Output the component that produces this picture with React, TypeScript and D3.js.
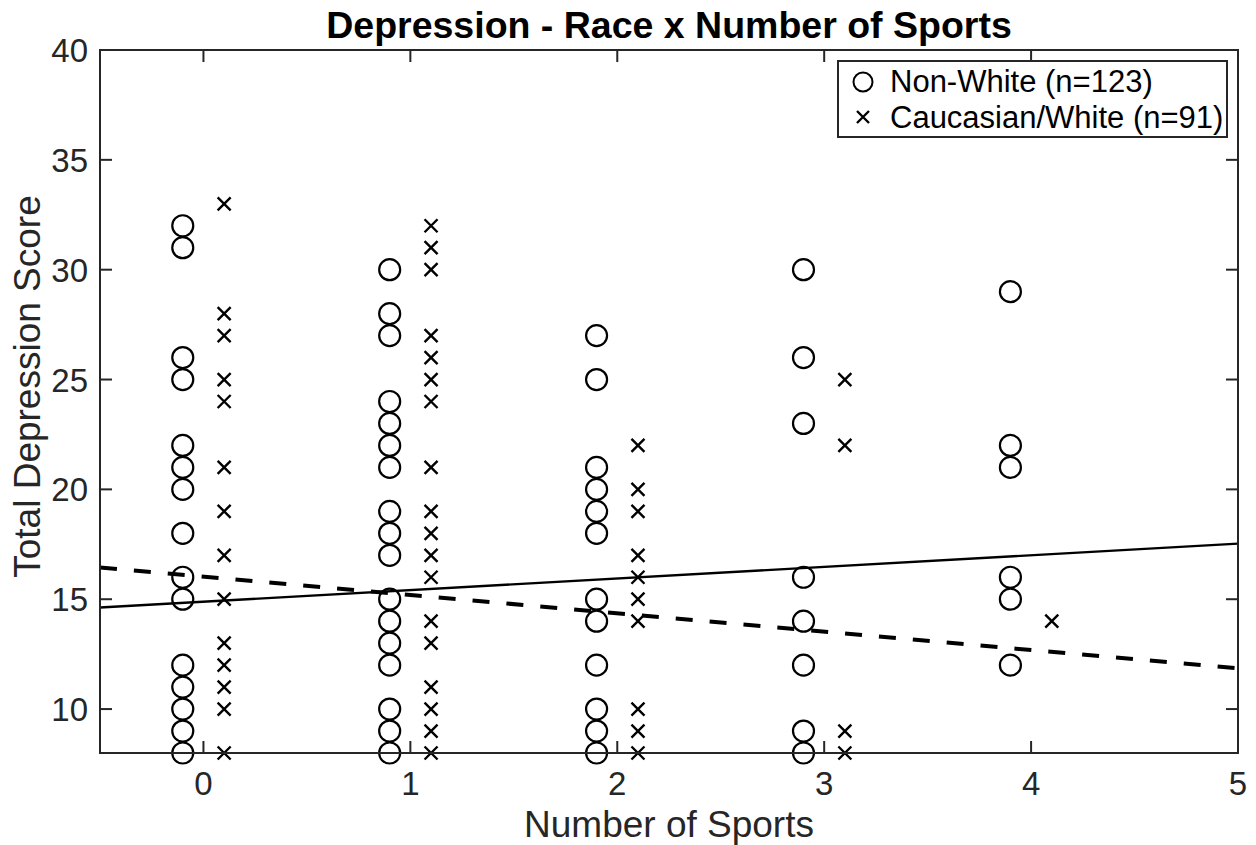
import React from "react";
import * as d3 from "d3";

// Total depression scores per participant, grouped by number of sports played.
const sportCounts = [0, 1, 2, 3, 4, 5];
const nonWhiteScores: number[][] = [
  [32, 31, 26, 25, 22, 21, 20, 18, 16, 15, 12, 11, 10, 9, 8],
  [30, 28, 27, 24, 23, 22, 21, 19, 18, 17, 15, 14, 13, 12, 10, 9, 8],
  [27, 25, 21, 20, 19, 18, 15, 14, 12, 10, 9, 8],
  [30, 26, 23, 16, 14, 12, 9, 8],
  [29, 22, 21, 16, 15, 12],
];
const whiteScores: number[][] = [
  [33, 28, 27, 25, 24, 21, 19, 17, 15, 13, 12, 11, 10, 8],
  [32, 31, 30, 27, 26, 25, 24, 21, 19, 18, 17, 16, 14, 13, 11, 10, 9, 8],
  [22, 20, 19, 17, 16, 15, 14, 10, 9, 8],
  [25, 22, 9, 8],
  [14],
];
const yTicks = [10, 15, 20, 25, 30, 35, 40];

// Linear fits: [intercept, slope]
const nonWhiteFit = [14.885, 0.529];
const whiteFit = [16.03, -0.836];

const legendLabels = ["Non-White (n=123)", "Caucasian/White (n=91)"];
const groupOffset = 0.1;

const W = 1256;
const H = 845;
const m = { left: 100, right: 1238, top: 50, bottom: 753 };

const x = d3.scaleLinear().domain([-0.5, 5]).range([m.left, m.right]);
const y = d3.scaleLinear().domain([8, 40]).range([m.bottom, m.top]);

const FONT = "'Liberation Sans', Arial, Helvetica, sans-serif";
const AX = "#262626";

function Cross({ cx, cy, s }: { cx: number; cy: number; s: number }) {
  return (
    <path
      d={`M${cx - s},${cy - s}L${cx + s},${cy + s}M${cx - s},${cy + s}L${cx + s},${cy - s}`}
      stroke="#000"
      strokeWidth={2.4}
      fill="none"
    />
  );
}

export default function App() {
  const fitLine = (fit: number[]) =>
    d3.line<number>()
      .x((d) => x(d))
      .y((d) => y(fit[0] + fit[1] * d))([-0.5, 5]) as string;

  const tickLen = 12;

  return (
    <svg
      width={W}
      height={H}
      style={{ position: "absolute", left: 0, top: 0, background: "#fff" }}
      fontFamily={FONT}
    >
      <defs>
        <clipPath id="plotArea">
          <rect x={m.left} y={m.top} width={m.right - m.left} height={m.bottom - m.top} />
        </clipPath>
      </defs>

      {/* markers */}
      {nonWhiteScores.map((col, i) =>
        col.map((v, j) => (
          <circle
            key={`n${i}-${j}`}
            cx={x(sportCounts[i] - groupOffset)}
            cy={y(v)}
            r={10.5}
            fill="none"
            stroke="#000"
            strokeWidth={2.2}
          />
        ))
      )}
      {whiteScores.map((col, i) =>
        col.map((v, j) => (
          <Cross key={`w${i}-${j}`} cx={x(sportCounts[i] + groupOffset)} cy={y(v)} s={6.5} />
        ))
      )}

      {/* fit lines */}
      <g clipPath="url(#plotArea)">
        <path d={fitLine(nonWhiteFit)} stroke="#000" strokeWidth={2.4} fill="none" />
        <path
          d={fitLine(whiteFit)}
          stroke="#000"
          strokeWidth={4}
          strokeDasharray="17 17"
          fill="none"
        />
      </g>

      {/* axes box */}
      <rect
        x={m.left}
        y={m.top}
        width={m.right - m.left}
        height={m.bottom - m.top}
        fill="none"
        stroke={AX}
        strokeWidth={2}
      />
      {sportCounts.map((t) => (
        <g key={`xt${t}`}>
          <line x1={x(t)} x2={x(t)} y1={m.bottom} y2={m.bottom - tickLen} stroke={AX} strokeWidth={2} />
          <line x1={x(t)} x2={x(t)} y1={m.top} y2={m.top + tickLen} stroke={AX} strokeWidth={2} />
          <text x={x(t)} y={795} fontSize={33} fill={AX} textAnchor="middle">
            {t}
          </text>
        </g>
      ))}
      {yTicks.map((t) => (
        <g key={`yt${t}`}>
          <line x1={m.left} x2={m.left + tickLen} y1={y(t)} y2={y(t)} stroke={AX} strokeWidth={2} />
          <line x1={m.right} x2={m.right - tickLen} y1={y(t)} y2={y(t)} stroke={AX} strokeWidth={2} />
          <text x={88} y={y(t) + 12} fontSize={33} fill={AX} textAnchor="end">
            {t}
          </text>
        </g>
      ))}

      {/* labels */}
      <text x={(m.left + m.right) / 2} y={837} fontSize={37} fill={AX} textAnchor="middle">
        Number of Sports
      </text>
      <text
        transform={`translate(40,${(m.top + m.bottom) / 2 - 15}) rotate(-90)`}
        fontSize={37}
        fill={AX}
        textAnchor="middle"
      >
        Total Depression Score
      </text>
      <text
        x={(m.left + m.right) / 2}
        y={38}
        fontSize={37.5}
        fontWeight="bold"
        fill="#000"
        textAnchor="middle"
      >
        Depression - Race x Number of Sports
      </text>

      {/* legend */}
      <rect x={838} y={61} width={389} height={76} fill="#fff" stroke={AX} strokeWidth={2} />
      <circle cx={863} cy={82} r={9.5} fill="none" stroke="#000" strokeWidth={2} />
      <Cross cx={863} cy={117} s={6} />
      <text x={890} y={92} fontSize={31} fill="#000">
        {legendLabels[0]}
      </text>
      <text x={890} y={128} fontSize={31} fill="#000">
        {legendLabels[1]}
      </text>
    </svg>
  );
}
